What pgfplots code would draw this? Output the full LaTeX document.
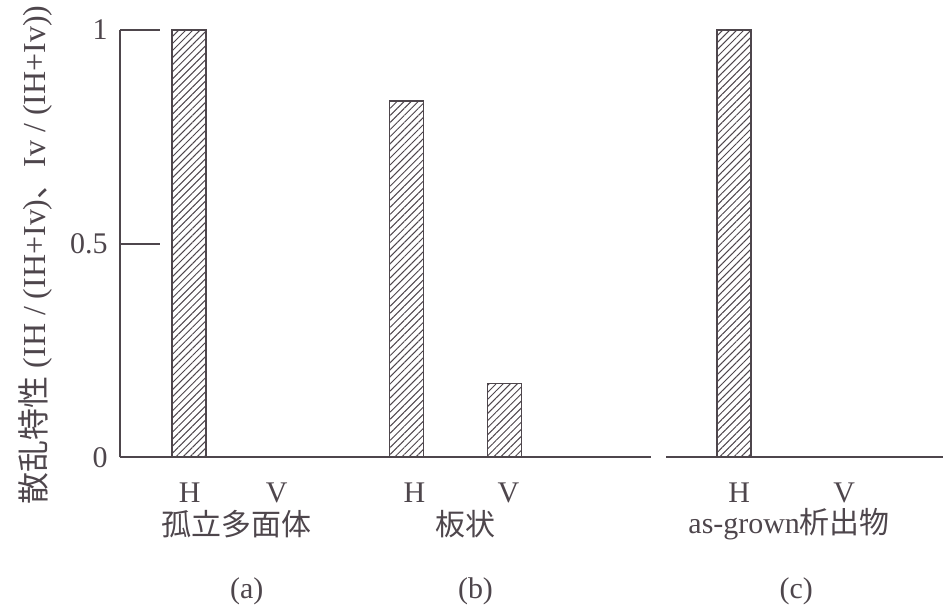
\documentclass[border=0pt]{standalone}
\usepackage{fontspec}
\setmainfont{Liberation Serif}
\newfontfamily\cjk{Noto Sans CJK JP}
\usepackage{pgfplots}
\pgfplotsset{compat=1.18}
\usetikzlibrary{patterns.meta}
\definecolor{ink}{RGB}{78,70,76}

\begin{document}
\begin{tikzpicture}
\begin{axis}[
  scale only axis,
  width=412pt, height=214pt,
  xmin=120, xmax=944, ymin=0, ymax=1,
  clip=false,
  axis lines*=left,
  x axis line style={draw=none},
  y axis line style={ink, line width=1pt},
  tick align=inside,
  major tick length=20pt,
  ytick={0,0.5,1},
  yticklabels={0,0.5,1},
  ytick style={ink, line width=1pt},
  yticklabel style={font=\fontsize{15}{18}\selectfont, text=ink, inner sep=0pt, anchor=east, xshift=-6pt},
  xtick={190,277,415,509,740,845},
  xticklabels={H,V,H,V,H,V},
  xtick style={draw=none},
  xticklabel style={font=\fontsize{15}{18}\selectfont, text=ink, inner sep=0pt, anchor=base, yshift=-22.5pt},
  /pgf/number format/assume math mode=true,
  ylabel={{\cjk 散乱特性}\ (IH / (IH+Iv){\cjk 、}Iv / (IH+Iv))},
  ylabel style={font=\fontsize{16}{19}\selectfont, text=ink, inner sep=0pt, at={(axis description cs:-0.103,0.474)}, anchor=center, rotate=0},
]
% hatched bars: H and V fractions for each precipitate shape
\addplot[ybar, bar width=17pt, draw=ink, line width=0.9pt,
  pattern={Lines[angle=45, distance=2.5pt, line width=0.5pt]}, pattern color=ink]
  coordinates {(189.5,1) (283,0) (407,0.834) (505,0.173) (734.5,1) (843,0)};

% broken baseline
\draw[ink, line width=1pt] (axis cs:120,0) -- (axis cs:652,0);
\draw[ink, line width=1pt] (axis cs:667,0) -- (axis cs:944,0);

% group names and panel letters
\node[font=\fontsize{15}{18}\selectfont\cjk, text=ink] at (axis cs:237,-0.1565) {孤立多面体};
\node[font=\fontsize{15}{18}\selectfont\cjk, text=ink] at (axis cs:466,-0.1565) {板状};
\node[font=\fontsize{15}{18}\selectfont, text=ink] at (axis cs:790,-0.1565) {as-grown{\cjk 析出物}};
\node[font=\fontsize{15}{18}\selectfont, text=ink] at (axis cs:247,-0.313) {(a)};
\node[font=\fontsize{15}{18}\selectfont, text=ink] at (axis cs:476,-0.313) {(b)};
\node[font=\fontsize{15}{18}\selectfont, text=ink] at (axis cs:797,-0.313) {(c)};

% page extent
\path (axis cs:0,1.070) (axis cs:944,-0.350);
\end{axis}
\end{tikzpicture}
\end{document}
